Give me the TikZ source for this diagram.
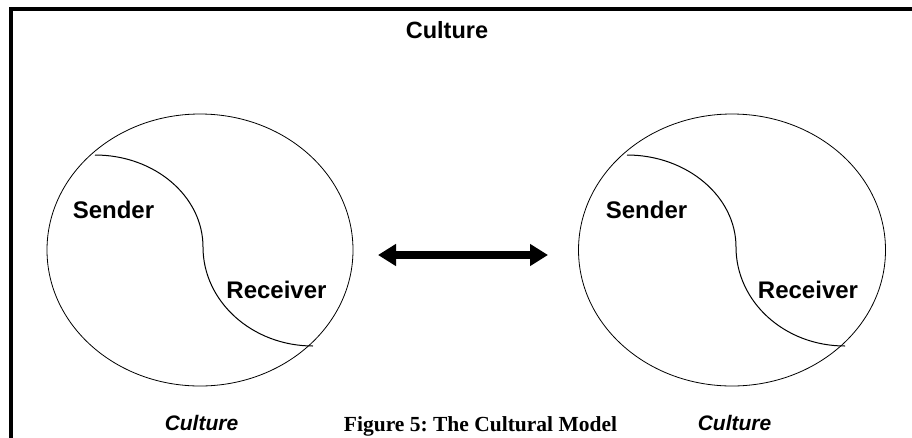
\documentclass[tikz,border=0pt]{standalone}
\usepackage{fontspec}
\setmainfont{Liberation Sans}
\newfontfamily\capfont{Liberation Serif}
\usetikzlibrary{arrows.meta}
\frenchspacing
\begin{document}
\begin{tikzpicture}[x=1pt,y=-1pt,
  label/.style={font=\bfseries\fontsize{24}{28}\selectfont, inner sep=0pt, anchor=base},
  culturelabel/.style={font=\bfseries\itshape\fontsize{21}{25}\selectfont, inner sep=0pt, anchor=base},
  oval/.style={draw, line width=0.8pt},
  divider/.style={draw, line width=1pt},
  frame/.style={draw, line width=4.2pt, line join=miter, line cap=butt},
  twoway/.style={line width=8pt, {Triangle[length=18pt,width=21pt]}-{Triangle[length=18pt,width=21pt]}}]
\useasboundingbox (0,0) rectangle (912,437);
\begin{scope}
\clip (0,0) rectangle (912,437);
% open frame: top and left sides only
\draw[frame] (11.2,445) -- (11.2,8.9) -- (920,8.9);
\end{scope}

% heading
\node[label, font=\bfseries\fontsize{23.5}{28}\selectfont] (culturetop) at (447,38) {Culture};

% left oval with its dividing S-curve
\draw[oval] (200,250) ellipse [x radius=153, y radius=136];
\coordinate (ls) at (95,155);
\coordinate (lm) at (203,247);
\coordinate (le) at (313,346);
\draw[divider] (ls) .. controls (154.6,155) and (203,196.2) .. (lm)
               .. controls (203,301.6) and (252.3,346) .. (le);
\node[label] (sendL) at (113.5,218) {Sender};
\node[label] (recvL) at (276.5,298) {Receiver};

% right oval with its dividing S-curve
\draw[oval] (732,250) ellipse [x radius=153.5, y radius=136];
\coordinate (rs) at (627,155);
\coordinate (rm) at (736,247);
\coordinate (re) at (845,346);
\draw[divider] (rs) .. controls (686.6,155) and (736,196.2) .. (rm)
               .. controls (736,301.6) and (784.3,346) .. (re);
\node[label] (sendR) at (646.5,218) {Sender};
\node[label] (recvR) at (808,298) {Receiver};

% exchange between the two cultures
\coordinate (aL) at (378,255);
\coordinate (aR) at (548,255);
\draw[twoway] (aL) -- (aR);

% bottom labels and caption
\node[culturelabel] (cultureL) at (201.5,430) {Culture};
\node[culturelabel] (cultureR) at (734.5,430) {Culture};
\node[inner sep=0pt, anchor=base, font=\capfont\bfseries\fontsize{21.5}{25}\selectfont] (caption) at (480.5,431) {Figure 5: The Cultural Model};
\end{tikzpicture}
\end{document}
